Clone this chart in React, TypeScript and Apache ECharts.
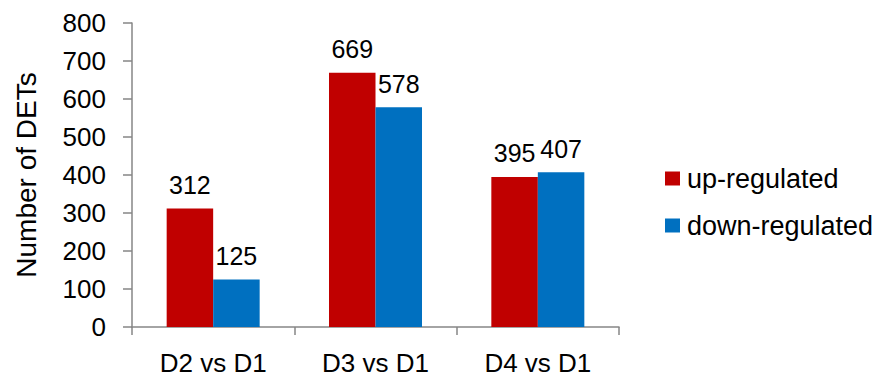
import React, { useEffect, useRef } from "react";
import * as echarts from "echarts";

const categories = ["D2 vs D1", "D3 vs D1", "D4 vs D1"];
const upRegulated = [312, 669, 395];
const downRegulated = [125, 578, 407];
const seriesNames = ["up-regulated", "down-regulated"];
const yAxisTitle = "Number of DETs";

const FONT = "'Liberation Sans', Arial, sans-serif";
const AXIS_GREY = "#868686";

export default function App() {
  const ref = useRef<HTMLDivElement>(null);

  useEffect(() => {
    if (!ref.current) return;
    const chart = echarts.init(ref.current, null, { renderer: "svg" });

    const labelStyle = {
      show: true,
      position: "top" as const,
      distance: 11,
      color: "#000",
      fontSize: 25,
      fontFamily: FONT,
    };

    chart.setOption({
      animation: false,
      backgroundColor: "#fff",
      textStyle: { fontFamily: FONT },
      grid: { left: 132, right: 262, top: 23, bottom: 52, containLabel: false },
      legend: {
        orient: "vertical",
        left: 660,
        top: 160,
        itemWidth: 15,
        itemHeight: 14,
        itemGap: 20,
        icon: "rect",
        textStyle: {
          fontSize: 27,
          fontFamily: FONT,
          color: "#000",
          padding: [0, 0, 0, 2],
        },
        data: seriesNames,
      },
      xAxis: {
        type: "category",
        data: categories,
        axisLine: { lineStyle: { color: AXIS_GREY, width: 1.5 } },
        axisTick: { show: true, length: 8, lineStyle: { color: AXIS_GREY, width: 1.5 } },
        axisLabel: { color: "#000", fontSize: 26, fontFamily: FONT, margin: 23 },
      },
      yAxis: {
        type: "value",
        min: 0,
        max: 800,
        interval: 100,
        name: yAxisTitle,
        nameLocation: "middle",
        nameRotate: 90,
        nameGap: 92,
        nameTextStyle: { color: "#000", fontSize: 28, fontFamily: FONT },
        axisLine: { show: true, lineStyle: { color: AXIS_GREY, width: 1.5 } },
        axisTick: { show: true, length: 9, lineStyle: { color: AXIS_GREY, width: 1.5 } },
        axisLabel: { color: "#000", fontSize: 26, fontFamily: FONT, margin: 26 },
        splitLine: { show: false },
      },
      series: [
        {
          name: seriesNames[0],
          type: "bar",
          data: upRegulated,
          barWidth: 46.5,
          barGap: "0%",
          itemStyle: { color: "#C00000" },
          label: labelStyle,
        },
        {
          name: seriesNames[1],
          type: "bar",
          data: downRegulated,
          barWidth: 46.5,
          barGap: "0%",
          itemStyle: { color: "#0070C0" },
          label: labelStyle,
        },
      ],
    });

    return () => chart.dispose();
  }, []);

  return (
    <div
      ref={ref}
      style={{ position: "fixed", left: 0, top: 0, width: 881, height: 379 }}
    />
  );
}
